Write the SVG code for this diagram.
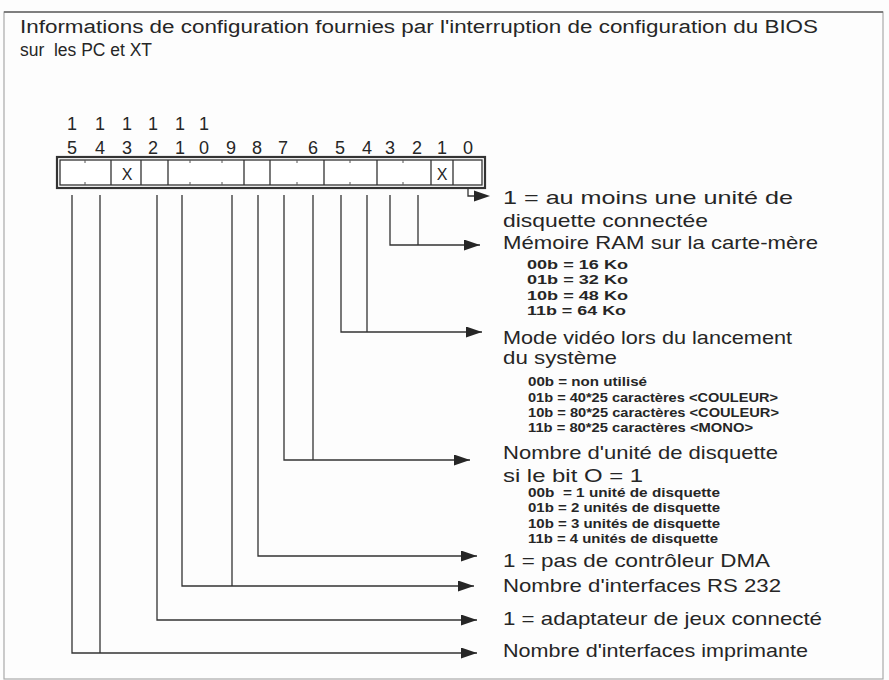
<svg xmlns="http://www.w3.org/2000/svg" width="889" height="680" viewBox="0 0 889 680">
  <style>
    .t { font-family: "Liberation Sans", Arial, sans-serif; fill: #262626; }
    .main { font-size: 19px; }
    .head { font-size: 18px; }
    .sub { font-size: 12px; font-weight: bold; }
    .bit { font-size: 18px; text-anchor: middle; }
    .ln { fill: none; stroke: #333; stroke-width: 1.3; }
    .cell { fill: none; stroke: #333; stroke-width: 1.3; }
    .tick { stroke: #555; stroke-width: 1; }
    .head-tip { fill: #262626; }
  </style>
  <defs>
    <marker id="arr" viewBox="0 0 16 11" refX="16" refY="5.5" markerWidth="16" markerHeight="11" markerUnits="userSpaceOnUse" orient="auto">
      <path d="M0,0 L16,5.5 L0,11 z" fill="#262626"/>
    </marker>
  </defs>

  <rect x="0" y="0" width="889" height="680" fill="#fdfdfd"/>
  <!-- outer frame -->
  <rect x="4" y="12" width="879" height="667" fill="none" stroke="#aaa" stroke-width="1.2"/>
  <line x1="4" y1="12" x2="883" y2="12" stroke="#666" stroke-width="1.6"/>

  <!-- heading -->
  <g id="title">
    <text class="t head" x="20" y="33" textLength="798" lengthAdjust="spacingAndGlyphs">Informations de configuration fournies par l'interruption de configuration du BIOS</text>
    <text class="t head" x="20" y="56" textLength="132" lengthAdjust="spacingAndGlyphs" xml:space="preserve">sur  les PC et XT</text>
  </g>

  <!-- bit numbers -->
  <g id="bit-numbers">
    <text class="t bit" x="72" y="130">1</text>
    <text class="t bit" x="100" y="130">1</text>
    <text class="t bit" x="127" y="130">1</text>
    <text class="t bit" x="153" y="130">1</text>
    <text class="t bit" x="180" y="130">1</text>
    <text class="t bit" x="204" y="130">1</text>
    <text class="t bit" x="72" y="154">5</text>
    <text class="t bit" x="100" y="154">4</text>
    <text class="t bit" x="127" y="154">3</text>
    <text class="t bit" x="153" y="154">2</text>
    <text class="t bit" x="180" y="154">1</text>
    <text class="t bit" x="204" y="154">0</text>
    <text class="t bit" x="231" y="154">9</text>
    <text class="t bit" x="257" y="154">8</text>
    <text class="t bit" x="283" y="154">7</text>
    <text class="t bit" x="313" y="154">6</text>
    <text class="t bit" x="340" y="154">5</text>
    <text class="t bit" x="367" y="154">4</text>
    <text class="t bit" x="390" y="154">3</text>
    <text class="t bit" x="417" y="154">2</text>
    <text class="t bit" x="442" y="154">1</text>
    <text class="t bit" x="468" y="154">0</text>
  </g>

  <!-- the 16-bit register -->
  <g id="register">
    <rect x="57" y="157" width="428" height="31" fill="#fff" stroke="#333" stroke-width="2.2"/>
    <rect x="60" y="160" width="422" height="25" class="cell"/>
    <path class="cell" d="M111,160 V185 M141,160 V185 M168,160 V185 M244,160 V185 M270,160 V185 M324,160 V185 M377,160 V185 M431,160 V185 M453,160 V185"/>
    <path class="tick" d="M85,160 v3 M85,185 v-3 M190,160 v3 M190,185 v-3 M222,160 v3 M222,185 v-3 M297,160 v3 M297,185 v-3 M350,160 v3 M350,185 v-3 M403,160 v3 M403,185 v-3"/>
    <text class="t bit" x="127" y="180" style="font-size:16px">X</text>
    <text class="t bit" x="442" y="180" style="font-size:16px">X</text>
  </g>

  <!-- leader lines from bit fields to their descriptions -->
  <g id="connectors">
    <path class="ln" d="M468,189 V196 H476"/>
    <path class="head-tip" d="M474,190.5 L490,196 L474,201.5 z"/>
    <path class="ln" d="M390,195 V245 H480" marker-end="url(#arr)"/>
    <path class="ln" d="M418,195 V245"/>
    <path class="ln" d="M341,195 V332 H482" marker-end="url(#arr)"/>
    <path class="ln" d="M367,195 V332"/>
    <path class="ln" d="M284,195 V460 H470" marker-end="url(#arr)"/>
    <path class="ln" d="M313,195 V460"/>
    <path class="ln" d="M258,195 V556 H477" marker-end="url(#arr)"/>
    <path class="ln" d="M182,195 V586 H474" marker-end="url(#arr)"/>
    <path class="ln" d="M232,195 V586"/>
    <path class="ln" d="M157,195 V620 H477" marker-end="url(#arr)"/>
    <path class="ln" d="M72,195 V653 H477" marker-end="url(#arr)"/>
    <path class="ln" d="M100,195 V653"/>
  </g>

  <g id="bit0">
    <text class="t main" x="503" y="204" textLength="290" lengthAdjust="spacingAndGlyphs">1 = au moins une unité de</text>
    <text class="t main" x="503" y="227" textLength="205" lengthAdjust="spacingAndGlyphs">disquette connectée</text>
  </g>

  <g id="bits3-2">
    <text class="t main" x="503" y="249" textLength="315" lengthAdjust="spacingAndGlyphs">Mémoire RAM sur la carte-mère</text>
    <text class="t sub" x="527" y="269" textLength="101" lengthAdjust="spacingAndGlyphs">00b = 16 Ko</text>
    <text class="t sub" x="527" y="284" textLength="101" lengthAdjust="spacingAndGlyphs">01b = 32 Ko</text>
    <text class="t sub" x="527" y="300" textLength="101" lengthAdjust="spacingAndGlyphs">10b = 48 Ko</text>
    <text class="t sub" x="527" y="315" textLength="99" lengthAdjust="spacingAndGlyphs">11b = 64 Ko</text>
  </g>

  <g id="bits5-4">
    <text class="t main" x="503" y="344" textLength="289" lengthAdjust="spacingAndGlyphs">Mode vidéo lors du lancement</text>
    <text class="t main" x="503" y="364" textLength="114" lengthAdjust="spacingAndGlyphs">du système</text>
    <text class="t sub" x="528" y="386" textLength="119" lengthAdjust="spacingAndGlyphs">00b = non utilisé</text>
    <text class="t sub" x="528" y="402" textLength="250" lengthAdjust="spacingAndGlyphs">01b = 40*25 caractères &lt;COULEUR&gt;</text>
    <text class="t sub" x="528" y="417" textLength="251" lengthAdjust="spacingAndGlyphs">10b = 80*25 caractères &lt;COULEUR&gt;</text>
    <text class="t sub" x="528" y="432" textLength="225" lengthAdjust="spacingAndGlyphs">11b = 80*25 caractères &lt;MONO&gt;</text>
  </g>

  <g id="bits7-6">
    <text class="t main" x="503" y="459" textLength="275" lengthAdjust="spacingAndGlyphs">Nombre d'unité de disquette</text>
    <text class="t main" x="503" y="482" textLength="140" lengthAdjust="spacingAndGlyphs">si le bit O = 1</text>
    <text class="t sub" x="528" y="497" textLength="192" lengthAdjust="spacingAndGlyphs" xml:space="preserve">00b  = 1 unité de disquette</text>
    <text class="t sub" x="528" y="512" textLength="192" lengthAdjust="spacingAndGlyphs">01b = 2 unités de disquette</text>
    <text class="t sub" x="528" y="528" textLength="192" lengthAdjust="spacingAndGlyphs">10b = 3 unités de disquette</text>
    <text class="t sub" x="528" y="543" textLength="190" lengthAdjust="spacingAndGlyphs">11b = 4 unités de disquette</text>
  </g>

  <g id="bit8">
    <text class="t main" x="503" y="567" textLength="267" lengthAdjust="spacingAndGlyphs">1 = pas de contrôleur DMA</text>
  </g>
  <g id="bits11-9">
    <text class="t main" x="503" y="592" textLength="278" lengthAdjust="spacingAndGlyphs">Nombre d'interfaces RS 232</text>
  </g>
  <g id="bit12">
    <text class="t main" x="503" y="625" textLength="319" lengthAdjust="spacingAndGlyphs">1 = adaptateur de jeux connecté</text>
  </g>
  <g id="bits15-14">
    <text class="t main" x="503" y="657" textLength="305" lengthAdjust="spacingAndGlyphs">Nombre d'interfaces imprimante</text>
  </g>
</svg>
